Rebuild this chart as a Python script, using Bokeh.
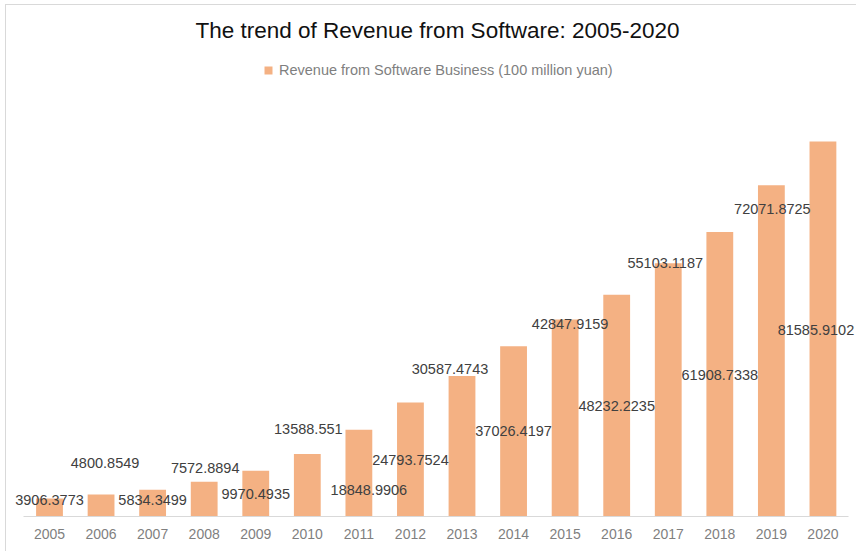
from bokeh.plotting import figure
from bokeh.models import ColumnDataSource, Range1d, Label, Legend, LegendItem, FixedTicker
from bokeh.embed import file_html
from bokeh.resources import INLINE

years = ["2005", "2006", "2007", "2008", "2009", "2010", "2011", "2012",
         "2013", "2014", "2015", "2016", "2017", "2018", "2019", "2020"]
revenue = [3906.3773, 4800.8549, 5834.3499, 7572.8894, 9970.4935, 13588.551,
           18848.9906, 24793.7524, 30587.4743, 37026.4197, 42847.9159,
           48232.2235, 55103.1187, 61908.7338, 72071.8725, 81585.9102]
labels = ["3906.3773", "4800.8549", "5834.3499", "7572.8894", "9970.4935", "13588.551",
          "18848.9906", "24793.7524", "30587.4743", "37026.4197", "42847.9159",
          "48232.2235", "55103.1187", "61908.7338", "72071.8725", "81585.9102"]

# label placement (pixels, relative to bar top / bar centre)
label_dy = [1, -31, 10, -14, 23, -25, 60, 57, -7, 85, 4, 111, 0, 143, 24, 188]
label_dx = [0, 4, 0, 1, 0, 1, 10, 0, -12, 0, 5, 0, -3, 0, 1, -7]

xs = list(range(len(years)))
source = ColumnDataSource(dict(x=xs, y=revenue, label=labels, dy=label_dy, dx=label_dx))

FONT = "Liberation Sans"
OX, OY = 6, 5                 # canvas origin on the page (after margin + border)
W, H = 857 - OX, 552 - OY
BASE = 516 - OY               # baseline in canvas pixels
band = 51.5625                # px per category
px_per_unit = 375 / 81585.9102
x0 = -(49 - OX) / band

p = figure(width=W, height=H, output_backend="svg", toolbar_location=None,
           y_axis_location=None,
           x_range=Range1d(x0, x0 + W / band),
           y_range=Range1d(0, BASE / px_per_unit))
p.min_border_left = 0
p.min_border_right = 0
p.min_border_top = 0
p.min_border_bottom = H - BASE
p.outline_line_color = None
p.grid.visible = False
p.styles = {"margin-left": "5px", "margin-top": "4px",
            "border-left": "1px solid #d9d9d9", "border-top": "1px solid #d9d9d9"}

bars = p.vbar(x="x", top="y", width=0.52, source=source,
              fill_color="#F4B183", line_color=None)

p.text(x="x", y="y", text="label", x_offset="dx", y_offset="dy", source=source,
       text_align="center", text_baseline="middle", text_font_size="14.5px",
       text_color="#404040", text_font={"value": FONT})

ax = p.xaxis[0]
ax.ticker = FixedTicker(ticks=xs)
ax.major_label_overrides = {i: y for i, y in zip(xs, years)}
ax.bounds = (-0.5, 15.5)
ax.axis_line_color = "#d9d9d9"
ax.axis_line_width = 1
ax.major_tick_line_color = None
ax.minor_tick_line_color = None
ax.major_tick_out = 0
ax.major_label_standoff = 12
ax.major_label_text_font = FONT
ax.major_label_text_font_size = "14px"
ax.major_label_text_color = "#7f7f7f"

title = Label(x=437 - OX, y=BASE - (30 - OY), x_units="screen", y_units="screen",
              text="The trend of Revenue from Software: 2005-2020",
              text_align="center", text_baseline="middle",
              text_font=FONT, text_font_size="22.5px", text_color="#111111")
p.add_layout(title)

legend = Legend(items=[LegendItem(label="Revenue from Software Business (100 million yuan)",
                                  renderers=[bars])],
                location=(263 - OX, BASE - (80 - OY)), padding=0, margin=0, spacing=0,
                border_line_color=None, background_fill_alpha=0,
                glyph_width=10, glyph_height=10, label_standoff=6,
                label_height=20, label_text_font=FONT,
                label_text_font_size="14.5px", label_text_color="#7f7f7f")
p.add_layout(legend)

open("out.html", "w").write(file_html(p, INLINE))
